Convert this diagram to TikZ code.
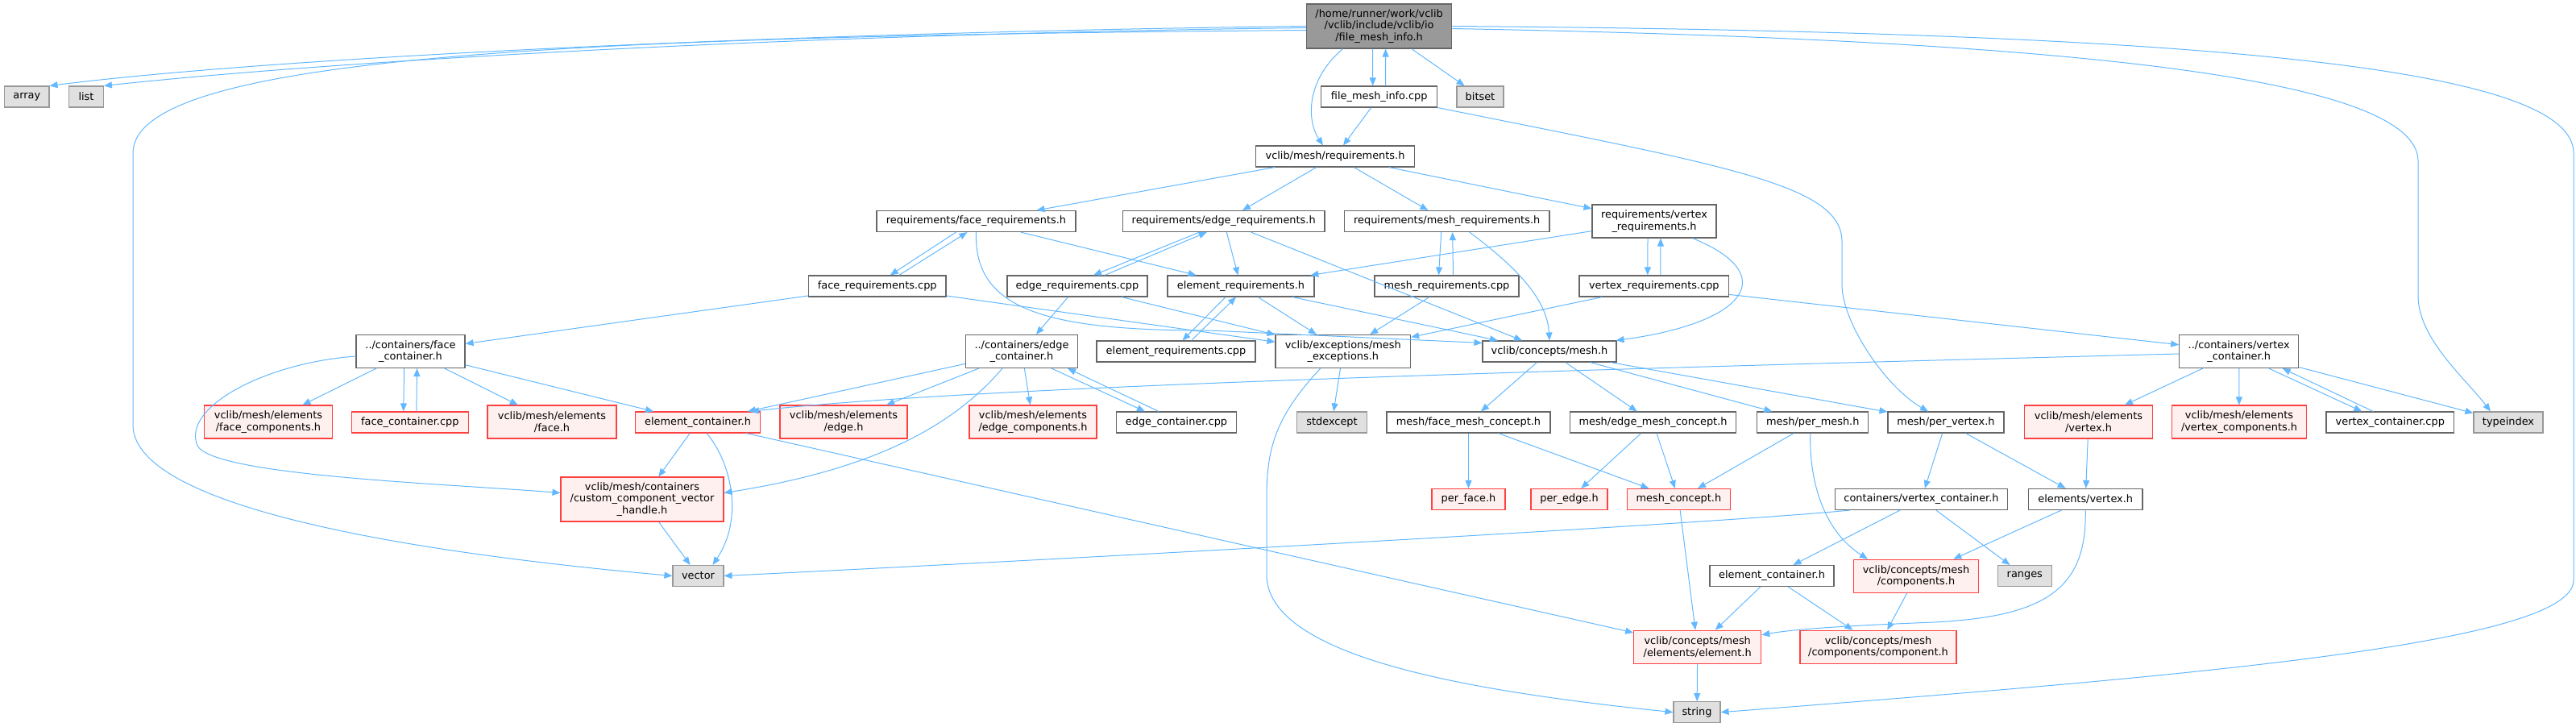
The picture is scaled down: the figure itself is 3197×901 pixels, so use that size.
\documentclass[tikz,border=0pt]{standalone}
\usepackage{fontspec}
\setmainfont{DejaVu Sans}
\usepackage{tikz}
\usetikzlibrary{arrows.meta,calc}
\definecolor{edgeblue}{HTML}{63B8FF}
\definecolor{boxgray}{HTML}{666666}
\definecolor{sysgray}{HTML}{999999}
\definecolor{sysfill}{HTML}{E0E0E0}
\definecolor{truncred}{HTML}{FF4040}
\definecolor{truncfill}{HTML}{FFF0F0}

\begin{document}
\begin{tikzpicture}[
  x=0.5pt, y=-0.5pt,
  font=\fontsize{6.45pt}{7.2pt}\selectfont,
  gnode/.style={rectangle, inner sep=0pt, align=center, line width=0.55pt, text=black},
  filebox/.style={gnode, draw=boxgray, fill=white},
  rootbox/.style={gnode, draw=boxgray, fill=sysgray},
  sysbox/.style={gnode, draw=sysgray, fill=sysfill},
  redbox/.style={gnode, draw=truncred, fill=truncfill},
  h1/.style={minimum height=13pt},
  h2/.style={minimum height=20.5pt},
  h3/.style={minimum height=27.5pt},
  inc/.style={draw=edgeblue, line width=0.5pt, -{Triangle[length=5pt,width=4pt]}},
]
\useasboundingbox (0,0) rectangle (3197,901);

%====================== ROOT AND DIRECT INCLUDES ======================
\node[rootbox, h3, minimum width=90.2pt] (root) at (1711.6,32.5) {/home/runner/work/vclib\\/vclib/include/vclib/io\\/file\_mesh\_info.h};
\node[sysbox, h1, minimum width=27.7pt] (array) at (33.3,120) {array};
\node[sysbox, h1, minimum width=21.4pt] (list) at (107,120) {list};
\node[filebox, h1, minimum width=72pt] (infocpp) at (1711.7,120) {file\_mesh\_info.cpp};
\node[sysbox, h1, minimum width=29pt] (bitset) at (1837,120) {bitset};
\node[filebox, h1, minimum width=98.25pt] (reqh) at (1657,194) {vclib/mesh/requirements.h};

%====================== REQUIREMENTS ======================
\node[filebox, h1, minimum width=123.5pt] (facereqh) at (1211.5,274.5) {requirements/face\_requirements.h};
\node[filebox, h1, minimum width=125.25pt] (edgereqh) at (1518.7,274.5) {requirements/edge\_requirements.h};
\node[filebox, h1, minimum width=127.25pt] (meshreqh) at (1795.7,274.5) {requirements/mesh\_requirements.h};
\node[filebox, h2, minimum width=77pt] (vertreqh) at (2053,274.5) {requirements/vertex\\\_requirements.h};

\node[filebox, h1, minimum width=85.25pt] (facereqcpp) at (1088.7,355) {face\_requirements.cpp};
\node[filebox, h1, minimum width=87pt] (edgereqcpp) at (1337,355) {edge\_requirements.cpp};
\node[filebox, h1, minimum width=91pt] (elemreqh) at (1540,355) {element\_requirements.h};
\node[filebox, h1, minimum width=89.5pt] (meshreqcpp) at (1795.5,355) {mesh\_requirements.cpp};
\node[filebox, h1, minimum width=92.8pt] (vertreqcpp) at (2052.8,355) {vertex\_requirements.cpp};

%====================== CONTAINERS, EXCEPTIONS, CONCEPTS ======================
\node[filebox, h2, minimum width=67.5pt] (facecont) at (509.5,436) {../containers/face\\\_container.h};
\node[filebox, h2, minimum width=69.5pt] (edgecont) at (1268,436) {../containers/edge\\\_container.h};
\node[filebox, h1, minimum width=98.5pt] (elemreqcpp) at (1459.5,436) {element\_requirements.cpp};
\node[filebox, h2, minimum width=83.8pt] (meshexc) at (1666.8,436) {vclib/exceptions/mesh\\\_exceptions.h};
\node[filebox, h1, minimum width=83pt] (conmesh) at (1923,436) {vclib/concepts/mesh.h};
\node[filebox, h2, minimum width=74pt] (vertcont) at (2778.7,436) {../containers/vertex\\\_container.h};

\node[redbox, h2, minimum width=79.25pt] (facecomp) at (333,523.5) {vclib/mesh/elements\\/face\_components.h};
\node[redbox, h1, minimum width=72.75pt] (facecontcpp) at (508.8,524) {face\_container.cpp};
\node[redbox, h2, minimum width=80pt] (faceh) at (685,523.5) {vclib/mesh/elements\\/face.h};
\node[redbox, h1, minimum width=77.25pt] (elemcontR) at (866,524) {element\_container.h};
\node[redbox, h2, minimum width=79pt] (edgeh) at (1047,523.5) {vclib/mesh/elements\\/edge.h};
\node[redbox, h2, minimum width=79pt] (edgecomp) at (1282,523.5) {vclib/mesh/elements\\/edge\_components.h};
\node[filebox, h1, minimum width=74.25pt] (edgecontcpp) at (1460,524) {edge\_container.cpp};
\node[sysbox, h1, minimum width=43.5pt] (stdexc) at (1653,524) {stdexcept};
\node[filebox, h1, minimum width=101.5pt] (facemc) at (1822.5,524) {mesh/face\_mesh\_concept.h};
\node[filebox, h1, minimum width=103.15pt] (edgemc) at (2051.5,524) {mesh/edge\_mesh\_concept.h};
\node[filebox, h1, minimum width=69pt] (permesh) at (2249.8,524) {mesh/per\_mesh.h};
\node[filebox, h1, minimum width=72pt] (pervert) at (2415,524) {mesh/per\_vertex.h};
\node[redbox, h2, minimum width=79.5pt] (vertexh) at (2592,523.5) {vclib/mesh/elements\\/vertex.h};
\node[redbox, h2, minimum width=83.5pt] (vertcomp) at (2779,523.5) {vclib/mesh/elements\\/vertex\_components.h};
\node[filebox, h1, minimum width=79.3pt] (vertcontcpp) at (2966.3,524) {vertex\_container.cpp};
\node[sysbox, h1, minimum width=43pt] (typeidx) at (3113,524) {typeindex};

%====================== LOWER ROWS ======================
\node[redbox, h3, minimum width=101pt] (custhandle) at (797,619.5) {vclib/mesh/containers\\/custom\_component\_vector\\\_handle.h};
\node[redbox, h1, minimum width=45.5pt] (perface) at (1822.5,619.5) {per\_face.h};
\node[redbox, h1, minimum width=47.5pt] (peredge) at (1947.5,619.5) {per\_edge.h};
\node[redbox, h1, minimum width=64.35pt] (meshcon) at (2083.4,619.5) {mesh\_concept.h};
\node[filebox, h1, minimum width=107pt] (contvert) at (2384.5,619.5) {containers/vertex\_container.h};
\node[filebox, h1, minimum width=70.8pt] (elemvert) at (2588.2,619.5) {elements/vertex.h};

\node[sysbox, h1, minimum width=31.5pt] (vector) at (866.5,714.5) {vector};
\node[filebox, h1, minimum width=77pt] (elemcont) at (2199,714.5) {element\_container.h};
\node[redbox, h2, minimum width=77.85pt] (components) at (2378,714.7) {vclib/concepts/mesh\\/components.h};
\node[sysbox, h1, minimum width=33.25pt] (ranges) at (2512.8,714.5) {ranges};

\node[redbox, h2, minimum width=79pt] (element) at (2106.7,802.7) {vclib/concepts/mesh\\/elements/element.h};
\node[redbox, h2, minimum width=97pt] (component) at (2331,802.7) {vclib/concepts/mesh\\/components/component.h};
\node[sysbox, h1, minimum width=29pt] (string) at (2106,883.7) {string};

%====================== INCLUDE EDGES ======================
% root
\draw[inc] (root.west) .. controls (1000,40) and (350,70) .. (array.north east);
\draw[inc] ($(root.west)+(0,2)$) .. controls (1000,42) and (420,75) .. (list.north east);
\draw[inc] ($(root.west)+(0,5)$) .. controls (700,45) and (165,70) .. (165,190) -- (165,527) .. controls (165,620) and (450,680) .. (vector.west);
\draw[inc] ($(root.south)+(-8,0)$) -- ($(infocpp.north)+(-8,0)$);
\draw[inc] ($(infocpp.north)+(8,0)$) -- ($(root.south)+(8,0)$);
\draw[inc] (root) -- (bitset);
\draw[inc] ($(root.south)+(-45,0)$) .. controls (1620,100) and (1622,150) .. ($(reqh.north)+(-15,0)$);
\draw[inc] ($(root.east)+(0,3)$) .. controls (2600,50) and (3001,100) .. (3001,200) -- (3001,367) .. controls (3001,420) and (3060,470) .. ($(typeidx.north)+(-22,0)$);
\draw[inc] (root.east) .. controls (2800,40) and (3194,90) .. (3194,190) -- (3194,720) .. controls (3194,800) and (2700,840) .. (string.east);

% file_mesh_info.cpp
\draw[inc] (infocpp) -- (reqh);
\draw[inc] (infocpp.south east) .. controls (2150,207) and (2286,230) .. (2286,300) -- (2286,353) .. controls (2286,400) and (2340,480) .. ($(pervert.north)+(-22,0)$);

% requirements.h
\draw[inc] (reqh) -- (facereqh);
\draw[inc] (reqh) -- (edgereqh);
\draw[inc] (reqh) -- (meshreqh);
\draw[inc] (reqh) -- (vertreqh);

% face / edge / mesh / vertex requirements
\draw[inc] ($(facereqh.south)+(-25,0)$) -- ($(facereqcpp.north)+(16,0)$);
\draw[inc] ($(facereqcpp.north)+(27,0)$) -- ($(facereqh.south)+(-11,0)$);
\draw[inc] (facereqh) -- (elemreqh);
\draw[inc] (facereqh.south) .. controls (1208,385) and (1300,410) .. (1500,410) -- ($(conmesh.north west)+(0,3)$);
\draw[inc] ($(edgereqh.south)+(-30,0)$) -- ($(edgereqcpp.north)+(20,0)$);
\draw[inc] ($(edgereqcpp.north)+(34,0)$) -- ($(edgereqh.south)+(-21,0)$);
\draw[inc] (edgereqh) -- (elemreqh);
\draw[inc] (edgereqh) -- (conmesh);
\draw[inc] ($(meshreqh.south)+(-7,0)$) -- ($(meshreqcpp.north)+(-10,0)$);
\draw[inc] ($(meshreqcpp.north)+(8,0)$) -- ($(meshreqh.south)+(7,0)$);
\draw[inc] ($(meshreqh.south)+(28,0)$) .. controls (1880,330) and (1920,370) .. (conmesh.north);
\draw[inc] (vertreqh) -- (elemreqh);
\draw[inc] ($(vertreqh.south)+(-8,0)$) -- ($(vertreqcpp.north)+(-8,0)$);
\draw[inc] ($(vertreqcpp.north)+(8,0)$) -- ($(vertreqh.south)+(8,0)$);
\draw[inc] ($(vertreqh.south east)+(-30,0)$) .. controls (2210,340) and (2170,400) .. ($(conmesh.north east)+(-1,0)$);

% requirement sources
\draw[inc] (facereqcpp) -- (facecont);
\draw[inc] (facereqcpp) -- (meshexc);
\draw[inc] (edgereqcpp) -- (edgecont);
\draw[inc] (edgereqcpp) -- (meshexc);
\draw[inc] ($(elemreqh.south)+(-19,0)$) -- ($(elemreqcpp.north)+(8,0)$);
\draw[inc] ($(elemreqcpp.north)+(19,0)$) -- ($(elemreqh.south)+(-6,0)$);
\draw[inc] (elemreqh) -- (meshexc);
\draw[inc] (elemreqh) -- (conmesh);
\draw[inc] (meshreqcpp) -- (meshexc);
\draw[inc] (vertreqcpp) -- (meshexc);
\draw[inc] (vertreqcpp) -- (vertcont);

% face container
\draw[inc] (facecont) -- (facecomp);
\draw[inc] ($(facecont.south)+(-8,0)$) -- ($(facecontcpp.north)+(-8,0)$);
\draw[inc] ($(facecontcpp.north)+(8,0)$) -- ($(facecont.south)+(8,0)$);
\draw[inc] (facecont) -- (faceh);
\draw[inc] (facecont) -- (elemcontR);
\draw[inc] ($(facecont.west)+(0,6)$) .. controls (330,450) and (225,505) .. (245,553) .. controls (265,590) and (550,600) .. ($(custhandle.west)+(0,-8)$);

% edge container
\draw[inc] (edgecont) -- (elemcontR);
\draw[inc] (edgecont) -- (edgeh);
\draw[inc] ($(edgecont.south)+(-24,0)$) .. controls (1190,520) and (1100,580) .. ($(custhandle.east)+(0,-8)$);
\draw[inc] (edgecont) -- (edgecomp);
\draw[inc] ($(edgecont.south)+(37,0)$) -- ($(edgecontcpp.north)+(-39,0)$);
\draw[inc] ($(edgecontcpp.north)+(-22,0)$) -- ($(edgecont.south)+(57,0)$);

% exceptions and concepts
\draw[inc] (meshexc) -- (stdexc);
\draw[inc] ($(meshexc.south)+(-28,0)$) .. controls (1580,520) and (1572,560) .. (1572,620) -- (1572,713) .. controls (1572,820) and (1850,860) .. (string.west);
\draw[inc] (conmesh) -- (facemc);
\draw[inc] (conmesh) -- (edgemc);
\draw[inc] (conmesh) -- (permesh);
\draw[inc] (conmesh) -- (pervert);

% vertex container
\draw[inc] ($(vertcont.west)+(0,3)$) .. controls (1900,460) and (1200,480) .. ($(elemcontR.north east)+(-12,0)$);
\draw[inc] (vertcont) -- (vertexh);
\draw[inc] (vertcont) -- (vertcomp);
\draw[inc] ($(vertcont.south)+(37,0)$) -- ($(vertcontcpp.north)+(-35,0)$);
\draw[inc] ($(vertcontcpp.north)+(-21,0)$) -- ($(vertcont.south)+(54,0)$);
\draw[inc] (vertcont) -- (typeidx);

% lower rows
\draw[inc] (elemcontR) -- (custhandle);
\draw[inc] ($(elemcontR.south)+(11,0)$) .. controls (905,570) and (925,640) .. ($(vector.north)+(18,0)$);
\draw[inc] (elemcontR) -- (element);
\draw[inc] (facemc) -- (perface);
\draw[inc] (facemc) -- (meshcon);
\draw[inc] (edgemc) -- (peredge);
\draw[inc] (edgemc) -- (meshcon);
\draw[inc] (permesh) -- (meshcon);
\draw[inc] ($(permesh.south)+(-3,0)$) .. controls (2245,600) and (2265,660) .. ($(components.north)+(-60,0)$);
\draw[inc] (pervert) -- (contvert);
\draw[inc] (pervert) -- (elemvert);
\draw[inc] (vertexh) -- (elemvert);
\draw[inc] (custhandle) -- (vector);
\draw[inc] (meshcon) -- (element);
\draw[inc] ($(contvert.south west)+(19,0)$) .. controls (2100,652) and (1200,700) .. (vector.east);
\draw[inc] (contvert) -- (elemcont);
\draw[inc] (contvert) -- (ranges);
\draw[inc] (elemvert) -- (components);
\draw[inc] (elemvert.south) .. controls (2590,730) and (2540,765) .. (2400,772) .. controls (2300,776) and (2230,780) .. ($(element.east)+(0,-15)$);
\draw[inc] (elemcont) -- (element);
\draw[inc] (elemcont) -- (component);
\draw[inc] (components) -- (component);
\draw[inc] (element) -- (string);
\end{tikzpicture}
\end{document}
